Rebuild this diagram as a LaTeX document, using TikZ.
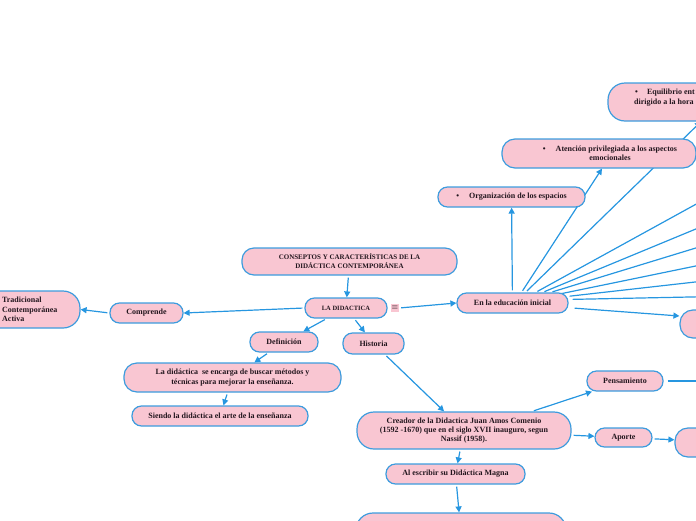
\documentclass[tikz,border=0pt]{standalone}
\usepackage{fontspec}
\setmainfont{Liberation Serif}
\usetikzlibrary{arrows.meta}
\definecolor{pinkfill}{RGB}{249,198,210}
\definecolor{boxblue}{RGB}{61,156,222}
\definecolor{linkblue}{RGB}{38,150,224}
\definecolor{txt}{RGB}{35,22,30}
\pgfdeclarelayer{bg}
\pgfsetlayers{bg,main}
\begin{document}
\begin{tikzpicture}[x=1pt,y=-1pt,
 box/.style={draw=boxblue, fill=pinkfill, line width=1.2pt, rounded corners=9.5pt, inner sep=0pt, align=center, font=\bfseries\fontsize{8}{9.2}\selectfont, text=txt},
 link/.style={draw=linkblue, line width=1.2pt, -{Triangle[length=6pt,width=6pt]}, shorten <=2pt},
 plain/.style={draw=linkblue, line width=1.2pt, shorten <=2pt},
 txtonly/.style={inner sep=0pt, align=left, font=\bfseries\fontsize{8}{9.5}\selectfont, text=txt}
]
\useasboundingbox (0,0) rectangle (696,520);
\clip (0,0) rectangle (696,520);

% nodes
\node[box, minimum width=215pt, minimum height=27pt, rounded corners=12pt, font=\bfseries\fontsize{7}{9}\selectfont] (title) at (349.5,261.5) {CONSEPTOS Y CARACTERÍSTICAS DE LA\\DIDÁCTICA CONTEMPORÁNEA};
\node[box, minimum width=82pt, minimum height=20pt, font=\bfseries\fontsize{6.5}{8}\selectfont] (ladid) at (346,308) {LA DIDACTICA};
\node[fill=pinkfill, minimum size=8pt, inner sep=0pt, text=txt, font=\fontsize{8}{8}\selectfont] (menu) at (395,308) {$\equiv$};
\node[box, minimum width=73pt, minimum height=20pt] (compr) at (146.5,313) {Comprende};
\node[box, minimum width=110pt, minimum height=37pt, rounded corners=17pt] (trad) at (25,309.5) {};
\node[txtonly, anchor=west] (tradtxt) at (2,309.5) {Tradicional\\Contemporánea\\Activa};
\node[box, minimum width=68pt, minimum height=20pt] (defi) at (284,342) {Definición};
\node[box, minimum width=61pt, minimum height=21pt] (hist) at (373.5,343.5) {Historia};
\node[box, minimum width=217pt, minimum height=29pt, rounded corners=13pt] (ladid2) at (232.5,377.5) {La didáctica\ \ se encarga de buscar métodos y\\técnicas para mejorar la enseñanza.};
\node[box, minimum width=176pt, minimum height=20pt] (siendo) at (220,416) {Siendo la didáctica el arte de la enseñanza};
\node[box, minimum width=111pt, minimum height=20pt] (edu) at (512.5,303) {En la educación inicial};
\node[box, minimum width=147pt, minimum height=20pt] (org) at (511.5,197) {•\hspace{10pt}Organización de los espacios};
\node[box, minimum width=194pt, minimum height=29pt, rounded corners=13pt] (aten) at (599,153.5) {\hspace*{22pt}•\hspace{10pt}Atención privilegiada a los aspectos\\\hspace*{22pt}emocionales};
\node[box, minimum width=192pt, minimum height=38pt, rounded corners=17pt] (equil) at (704,102) {};
\node[txtonly, anchor=west] (equiltxt) at (634,97.5) {\hspace*{1pt}•\hspace{9pt}Equilibrio ent\\dirigido a la hora};
\node[box, minimum width=120pt, minimum height=28pt, rounded corners=13pt] (brbox) at (740,324) {};
\node[box, minimum width=214pt, minimum height=37pt, rounded corners=17pt] (creador) at (464,430.5) {Creador de la Didactica Juan Amos Comenio\\(1592 -1670) que en el siglo XVII inauguro, segun\\Nassif (1958).};
\node[box, minimum width=76pt, minimum height=20pt] (pens) at (625,381) {Pensamiento};
\node[box, minimum width=57pt, minimum height=19pt] (aporte) at (623.5,437.5) {Aporte};
\node[box, minimum width=120pt, minimum height=29pt, rounded corners=13pt] (apbox) at (735,442.5) {};
\node[box, minimum width=139pt, minimum height=20pt] (alesc) at (455.5,474) {Al escribir su Didáctica Magna};
\node[box, minimum width=210pt, minimum height=40pt, rounded corners=17pt] (bottom) at (461,533) {};

\coordinate (pensout) at (720,381);
\coordinate (f1) at (720,191);
\coordinate (f2) at (720,219);
\coordinate (f3) at (720,240.6);
\coordinate (f4) at (720,261);
\coordinate (f5) at (720,279.2);
\coordinate (f6) at (720,296.4);

\begin{pgfonlayer}{bg}
\clip (0,0) rectangle (696,520);
\draw[link] (title) -- (ladid);
\draw[link] (ladid.west) -- (compr.east);
\draw[link] (compr.west) -- (trad.east);
\draw[link] (ladid) -- (defi);
\draw[link] (ladid) -- (hist);
\draw[link] (menu.east) -- (edu.west);
\draw[link] (defi) -- (ladid2);
\draw[link] (ladid2) -- (siendo);
\draw[link] (hist) -- (creador);
\draw[link] ([xshift=68pt]creador.north) -- ([xshift=-33pt]pens.south);
\draw[link] (creador) -- (aporte);
\draw[link] (aporte) -- (apbox);
\draw[plain, shorten <=4pt] (pens.east) -- (pensout);
\draw[link] (creador) -- (alesc);
\draw[link] (alesc) -- (bottom);
\draw[link] (edu) -- (org);
\draw[link] ([xshift=9pt]edu.north) -- ([xshift=3pt]aten.south);
\draw[link] ([xshift=13pt]edu.north) -- ([xshift=-3pt]equil.south);
\draw[plain] ([xshift=-33pt]edu.north east) -- (f1);
\draw[plain] ([xshift=-26pt]edu.north east) -- (f2);
\draw[plain] ([xshift=-18pt]edu.north east) -- (f3);
\draw[plain] ([xshift=-11pt,yshift=-2pt]edu.north east) -- (f4);
\draw[plain] ([xshift=-1pt,yshift=-4pt]edu.north east) -- (f5);
\draw[plain] ([xshift=2pt,yshift=-7pt]edu.north east) -- (f6);
\draw[link] ([xshift=4pt,yshift=-5pt]edu.east) -- ([yshift=8pt]brbox.west);
\end{pgfonlayer}
\end{tikzpicture}
\end{document}
